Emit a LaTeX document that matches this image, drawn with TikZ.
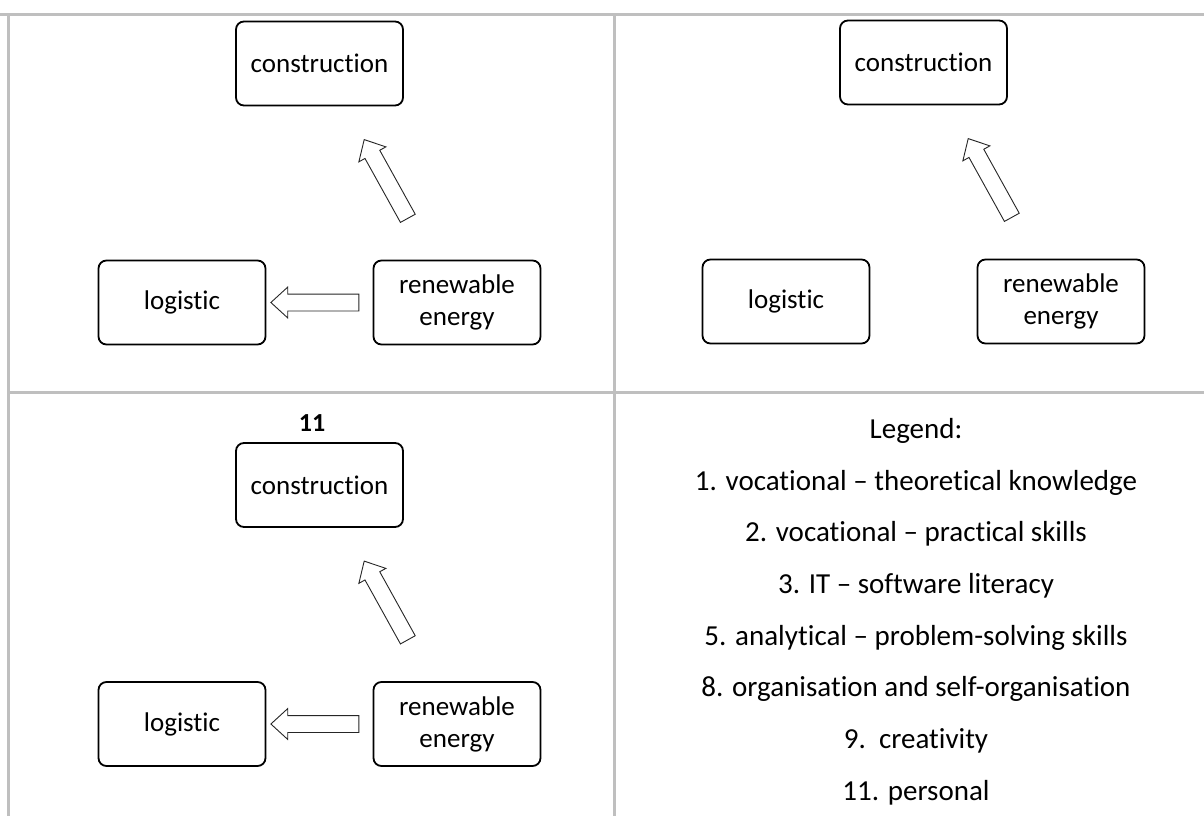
\documentclass[tikz,border=0pt]{standalone}
\usepackage{fontspec}
\setmainfont{Carlito}[Ligatures=NoCommon]
\usetikzlibrary{shapes.arrows,calc}

\begin{document}
\begin{tikzpicture}[x=1pt,y=-1pt,
  box/.style={draw=black, line width=1.8pt, rounded corners=8pt,
    minimum width=167pt, minimum height=84pt, inner sep=0pt,
    align=center, font=\fontsize{27}{32}\selectfont},
  blockarrow/.style={single arrow, draw=black!85, line width=0.9pt, fill=white,
    inner xsep=0pt, inner ysep=8pt, single arrow head extend=7pt,
    single arrow head indent=0pt, single arrow tip angle=85,
    minimum height=#1},
  gridline/.style={draw=black!25, line width=3pt},
  legend/.style={anchor=base, font=\fontsize{29}{35}\selectfont}
]
\useasboundingbox (0,0) rectangle (1204,816);

% table rules
\draw[gridline] (0,14.2) -- (1204,14.2);
\draw[gridline] (8.7,14.2) -- (8.7,816);
\draw[gridline] (614,14.2) -- (614,816);
\draw[gridline] (8.7,392.7) -- (1204,392.7);

% top-left cell
\node[box] (conA) at (319.5,63.5) {construction};
\node[box] (logA) at (182,302.5) {logistic};
\node[box] (renA) at (457,302.5) {renewable\\energy};
\node[blockarrow=88pt, rotate=180] (hA) at ($(logA.east)!0.5!(renA.west)$) {};
\node[blockarrow=90pt, rotate=119] (dA) at ($(conA.south)!0.5!(renA.north)$) {};

% top-right cell
\node[box] (conB) at (923.5,62.5) {construction};
\node[box] (logB) at (786,301.5) {logistic};
\node[box] (renB) at (1061,301.5) {renewable\\energy};
\node[blockarrow=90pt, rotate=119] (dB) at ($(conB.south)!0.5!(renB.north)$) {};

% bottom-left cell
\node[box] (conC) at (319.5,485) {construction};
\node[box] (logC) at (182,724) {logistic};
\node[box] (renC) at (457,724) {renewable\\energy};
\node[blockarrow=88pt, rotate=180] (hC) at ($(logC.east)!0.5!(renC.west)$) {};
\node[blockarrow=90pt, rotate=119] (dC) at ($(conC.south)!0.5!(renC.north)$) {};
\node[font=\fontsize{26}{30}\selectfont\bfseries] (numC) at (312,423) {11};

% bottom-right cell: legend
\node[legend] (lg0) at (916,438) {Legend:};
\node[legend] (lg1) at (916,490) {1. vocational – theoretical knowledge};
\node[legend] (lg2) at (916,541.5) {2. vocational – practical skills};
\node[legend] (lg3) at (916,593) {3. IT – software literacy};
\node[legend] (lg5) at (916,645) {5. analytical – problem-solving skills};
\node[legend] (lg8) at (916,696) {8. organisation and self-organisation};
\node[legend] (lg9) at (916,748) {9.\ \ creativity};
\node[legend] (lg11) at (916,800) {11. personal};
\end{tikzpicture}
\end{document}
